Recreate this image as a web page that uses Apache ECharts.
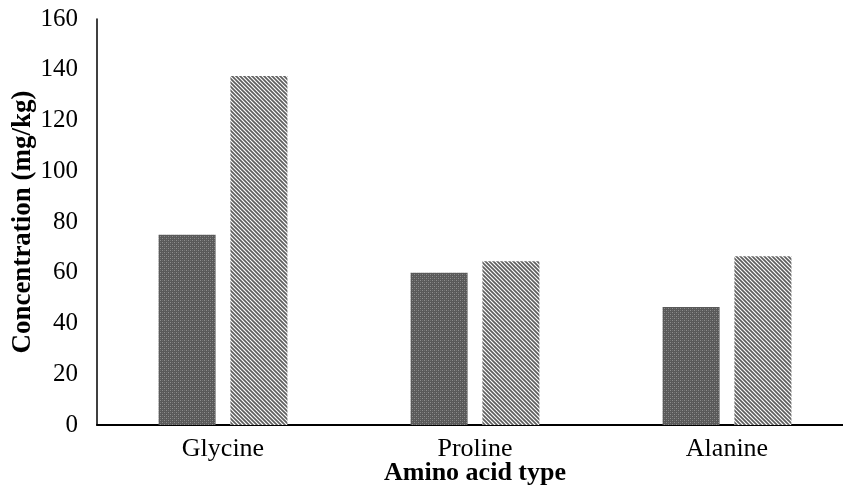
<!DOCTYPE html>
<html>
<head>
<meta charset="utf-8">
<script src="https://cdn.jsdelivr.net/npm/echarts@6/dist/echarts.min.js"></script>
<style>
  html, body { margin: 0; padding: 0; background: #fff; }
  #chart { width: 843px; height: 504px; }
</style>
</head>
<body>
<div id="chart"></div>
<script>
// Amino acid concentrations, two sample groups
const categories = ['Glycine', 'Proline', 'Alanine'];
const seriesA = [75, 60, 46.5];
const seriesB = [137.5, 64.5, 66.5];
const yTicks = { min: 0, max: 160, interval: 20 };

// Dense dotted fill for the first series
function dotPattern() {
  const c = document.createElement('canvas');
  c.width = 4; c.height = 4;
  const g = c.getContext('2d');
  g.fillStyle = '#595959';
  g.fillRect(0, 0, 4, 4);
  g.fillStyle = '#8e8e8e';
  g.fillRect(0, 0, 1, 1);
  g.fillRect(2, 2, 1, 1);
  g.fillStyle = '#707070';
  g.fillRect(2, 0, 1, 1);
  g.fillRect(0, 2, 1, 1);
  return c;
}

// Diagonal (top-left to bottom-right) hatch for the second series
function hatchPattern() {
  const n = 8, step = 4;
  const c = document.createElement('canvas');
  c.width = n; c.height = n;
  const g = c.getContext('2d');
  g.fillStyle = '#ffffff';
  g.fillRect(0, 0, n, n);
  g.strokeStyle = '#5e5e5e';
  g.lineWidth = 1.7;
  for (let k = -2 * n; k <= 2 * n; k += step) {
    g.beginPath();
    g.moveTo(k - n, -n);
    g.lineTo(k + 2 * n, 2 * n);
    g.stroke();
  }
  return c;
}

const serif = '"Liberation Serif", "Times New Roman", serif';
const chart = echarts.init(document.getElementById('chart'), null, { renderer: 'canvas' });

chart.setOption({
  animation: false,
  backgroundColor: '#ffffff',
  // the plot area runs slightly past the right edge, so keep the grid where it is put
  grid: { left: 97, top: 19, width: 756, bottom: 79, containLabel: false, outerBoundsMode: 'none' },
  xAxis: {
    type: 'category',
    data: categories,
    axisLine: { lineStyle: { color: '#000', width: 2 } },
    axisTick: { show: false },
    axisLabel: { color: '#000', fontFamily: serif, fontSize: 26, margin: 11 },
    name: 'Amino acid type',
    nameLocation: 'middle',
    nameGap: 35,
    nameMoveOverlap: false,
    nameTextStyle: { color: '#000', fontFamily: serif, fontSize: 26, fontWeight: 'bold' }
  },
  yAxis: {
    type: 'value',
    min: yTicks.min,
    max: yTicks.max,
    interval: yTicks.interval,
    splitLine: { show: false },
    axisLine: { show: true, lineStyle: { color: '#000', width: 1.5 } },
    axisTick: { show: false },
    axisLabel: { color: '#000', fontFamily: serif, fontSize: 25, margin: 19 },
    name: 'Concentration (mg/kg)',
    nameLocation: 'middle',
    nameGap: 60,
    nameMoveOverlap: false,
    nameTextStyle: { color: '#000', fontFamily: serif, fontSize: 27, fontWeight: 'bold' }
  },
  series: [
    {
      type: 'bar',
      data: seriesA,
      barWidth: 57,
      barGap: '26%',
      itemStyle: { color: { image: dotPattern(), repeat: 'repeat' } }
    },
    {
      type: 'bar',
      data: seriesB,
      barWidth: 57,
      barGap: '26%',
      itemStyle: { color: { image: hatchPattern(), repeat: 'repeat' } }
    }
  ]
});
</script>
</body>
</html>
